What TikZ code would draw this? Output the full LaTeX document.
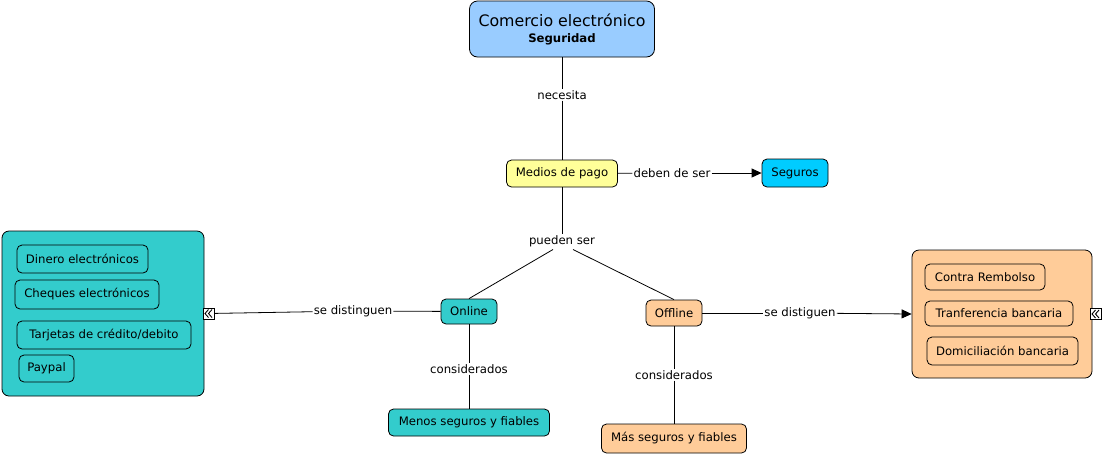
\documentclass[tikz,border=0pt]{standalone}
\usepackage{fontspec}
\setmainfont{DejaVu Sans}
\usetikzlibrary{arrows.meta}
\definecolor{titleblue}{RGB}{153,204,255}
\definecolor{paleyellow}{RGB}{255,255,153}
\definecolor{skyblue}{RGB}{0,204,255}
\definecolor{teal}{RGB}{51,204,204}
\definecolor{peach}{RGB}{255,204,153}
\tikzset{
  concept/.style={draw=black, line width=0.8pt, rounded corners=5pt, inner sep=0pt, align=center,
    font=\fontsize{11.7}{13}\selectfont},
  bigbox/.style={draw=black, line width=0.8pt, rounded corners=7pt, inner sep=0pt},
  lbl/.style={fill=white, inner sep=1pt, font=\fontsize{11.7}{13}\selectfont},
  conn/.style={draw=black, line width=0.8pt},
  arr/.style={conn, -{Triangle[length=10pt,width=9pt]}},
  iconbox/.style={draw=black, fill=white, line width=0.8pt, minimum width=11pt, minimum height=11pt, inner sep=0pt},
  chev/.style={draw=black, line width=0.9pt},
}
\begin{document}
\begin{tikzpicture}[x=1pt,y=-1pt]
\useasboundingbox (0,0) rectangle (1105,456);
% main concepts
\node[concept, fill=titleblue, rounded corners=8pt, minimum width=185pt, minimum height=56pt] (title) at (562,29)
  {{\fontsize{15.8}{19}\selectfont Comercio electrónico}\\[3pt]{\bfseries Seguridad}};
\node[concept, fill=paleyellow, minimum width=111pt, minimum height=27pt] (medios) at (562,173.5) {Medios de pago};
\node[concept, fill=skyblue, minimum width=66pt, minimum height=28pt] (seguros) at (795,173) {Seguros};
\node[concept, fill=teal, minimum width=56pt, minimum height=25pt] (online) at (469,311.5) {Online};
\node[concept, fill=peach, minimum width=56pt, minimum height=26pt] (offline) at (674,313) {Offline};
\node[concept, fill=teal, minimum width=161pt, minimum height=27pt] (menos) at (469,422.5) {Menos seguros y fiables};
\node[concept, fill=peach, minimum width=145pt, minimum height=29pt] (mas) at (674,438.5) {Más seguros y fiables};
% left container
\node[bigbox, fill=teal, minimum width=202pt, minimum height=165pt] (leftbox) at (103,313.5) {};
\node[concept, fill=teal, minimum width=131pt, minimum height=28pt] (dinero) at (82.5,259) {Dinero electrónicos};
\node[concept, fill=teal, minimum width=144pt, minimum height=29pt] (cheques) at (87,294.5) {Cheques electrónicos};
\node[concept, fill=teal, minimum width=174pt, minimum height=28pt] (tarjetas) at (104,335) {Tarjetas de crédito/debito};
\node[concept, fill=teal, minimum width=55pt, minimum height=27pt] (paypal) at (46.5,368.5) {Paypal};
\node[iconbox] (iconL) at (209,313.5) {};
% right container
\node[bigbox, fill=peach, minimum width=180pt, minimum height=128pt] (rightbox) at (1002,314) {};
\node[concept, fill=peach, minimum width=120pt, minimum height=26pt] (contra) at (985,277) {Contra Rembolso};
\node[concept, fill=peach, minimum width=148pt, minimum height=25pt] (tranf) at (999,313.5) {Tranferencia bancaria};
\node[concept, fill=peach, minimum width=151pt, minimum height=28pt] (domic) at (1002.5,351) {Domiciliación bancaria};
\node[iconbox] (iconR) at (1096,314) {};
% chevrons in the small icons
\foreach \ic in {iconL,iconR}{
  \draw[chev] ([shift={(-0.5pt,-4pt)}]\ic.center) -- ([shift={(-4pt,0pt)}]\ic.center) -- ([shift={(-0.5pt,4pt)}]\ic.center);
  \draw[chev] ([shift={(3pt,-4pt)}]\ic.center) -- ([shift={(-0.5pt,0pt)}]\ic.center) -- ([shift={(3pt,4pt)}]\ic.center);
}
% labels
\node[lbl] (necesita) at (562,95) {necesita};
\node[lbl] (deben) at (672,173) {deben de ser};
\node[lbl] (pueden) at (562,241) {pueden ser};
\node[lbl] (sedistL) at (353,311) {se distinguen};
\node[lbl] (sedistR) at (800,313) {se distiguen};
\node[lbl] (consL) at (469,369) {considerados};
\node[lbl] (consR) at (674,375) {considerados};
\coordinate (pl) at (553,249.5);
\coordinate (pr) at (573,249.5);
% connectors
\draw[conn] (title) -- (necesita) -- (medios);
\draw[conn] (medios) -- (deben);
\draw[arr] (deben) -- (seguros);
\draw[conn] (medios) -- (pueden);
\draw[conn] (pl) -- (online.north);
\draw[conn] (pr) -- (offline.north);
\draw[conn] (online) -- (sedistL) -- (iconL);
\draw[conn] (offline) -- (sedistR);
\draw[arr] (sedistR) -- (rightbox.west);
\draw[conn] (online) -- (consL) -- (menos);
\draw[conn] (offline) -- (consR) -- (mas);
\end{tikzpicture}
\end{document}
